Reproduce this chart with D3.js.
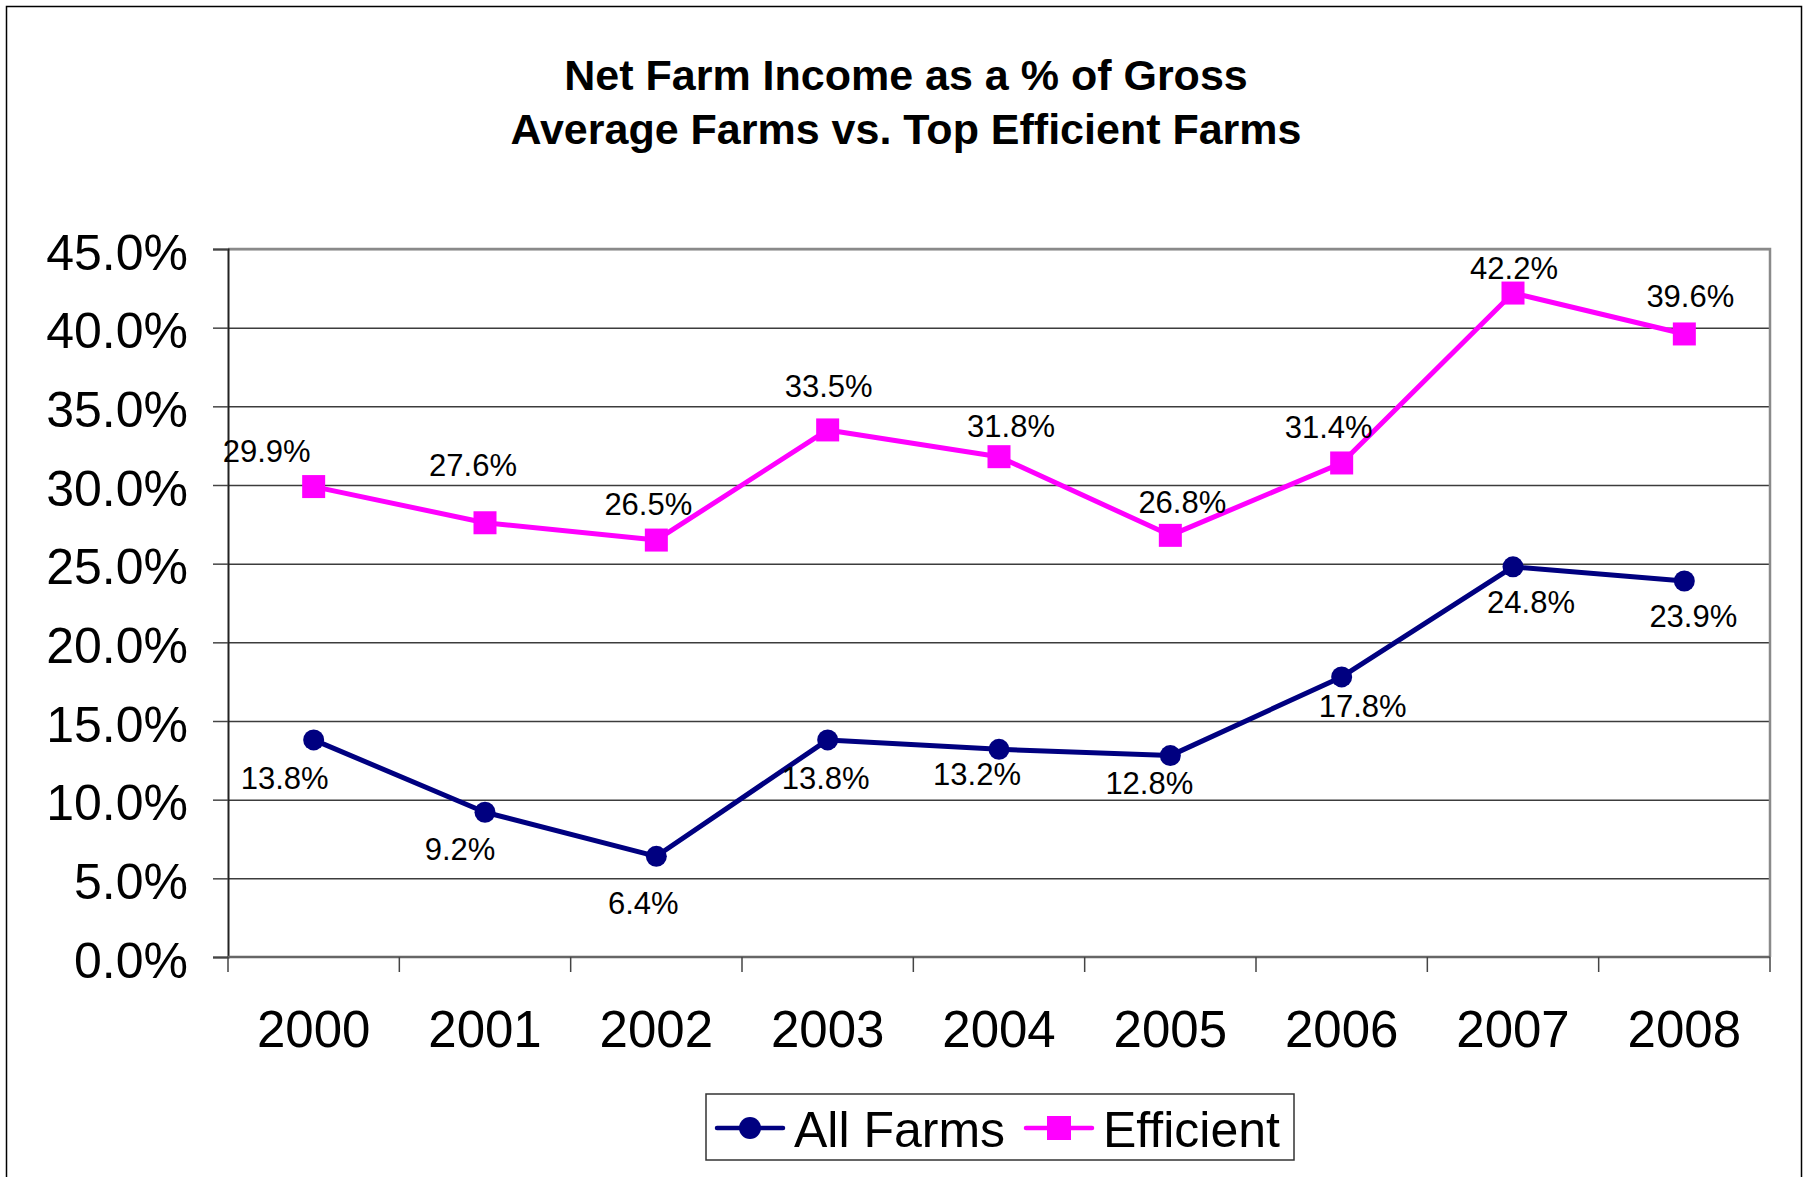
<!DOCTYPE html>
<html>
<head>
<meta charset="utf-8">
<script src="https://cdn.jsdelivr.net/npm/d3@7"></script>
<style>
  html, body { margin: 0; padding: 0; background: #fff; }
  svg { display: block; font-family: "Liberation Sans", Arial, sans-serif; }
</style>
</head>
<body>
<svg id="chart" width="1805" height="1177"></svg>
<script>
// Chart data
const years = ["2000", "2001", "2002", "2003", "2004", "2005", "2006", "2007", "2008"];
const allFarms = [13.8, 9.2, 6.4, 13.8, 13.2, 12.8, 17.8, 24.8, 23.9];
const efficient = [29.9, 27.6, 26.5, 33.5, 31.8, 26.8, 31.4, 42.2, 39.6];
const yTicks = [0, 5, 10, 15, 20, 25, 30, 35, 40, 45];
const titleLines = ["Net Farm Income as a % of Gross", "Average Farms vs. Top Efficient Farms"];

// Per-point label nudges (pixels, relative to the marker)
const effLabelNudge = [[-47, -35], [-12, -58], [-8, -36], [1, -44], [12, -31], [12, -33], [-13, -36], [1, -25], [6, -38]];
const allLabelNudge = [[-29, 38], [-25, 37], [-13, 47], [-2, 38], [-22, 25], [-21, 28], [21, 29], [18, 35], [9, 35]];

const NAVY = "#000080", MAGENTA = "#ff00ff";
const svg = d3.select("#chart");

// Outer frame
svg.append("rect").attr("x", 6.5).attr("y", 6.5).attr("width", 1795).attr("height", 1200)
  .attr("fill", "none").attr("stroke", "#000").attr("stroke-width", 1.5);

// Title
svg.append("g").selectAll("text").data(titleLines).join("text")
  .attr("x", 906).attr("y", (d, i) => 90 + i * 54)
  .attr("text-anchor", "middle").attr("font-weight", "bold").attr("font-size", 43)
  .text(d => d);

const plot = { left: 228, right: 1770, top: 249, bottom: 957 };
const x = d3.scaleBand().domain(years).range([plot.left, plot.right]).padding(0);
const y = d3.scaleLinear().domain([0, 45]).range([plot.bottom, plot.top]);
const cx = d => x(d) + x.bandwidth() / 2;

// Horizontal gridlines
svg.append("g").attr("transform", `translate(${plot.left},0)`)
  .call(d3.axisLeft(y).tickValues(yTicks.slice(1)).tickSize(-(plot.right - plot.left)).tickFormat(""))
  .call(g => g.select(".domain").remove())
  .call(g => g.selectAll("line").attr("stroke", "#3c3c3c").attr("stroke-width", 1.5));

// Plot border (top & right)
svg.append("path")
  .attr("d", `M${plot.left},${plot.top}H${plot.right}V${plot.bottom}`)
  .attr("fill", "none").attr("stroke", "#8a8a8a").attr("stroke-width", 2.5);

// Y axis
svg.append("g").attr("transform", `translate(${plot.left},0)`)
  .call(d3.axisLeft(y).tickValues(yTicks).tickSize(15).tickPadding(25).tickFormat(d => d.toFixed(1) + "%"))
  .call(g => g.select(".domain").attr("stroke", "#222").attr("stroke-width", 2))
  .call(g => g.selectAll(".tick line").attr("stroke", "#444").attr("stroke-width", 1.5))
  .call(g => g.selectAll("text").attr("font-size", 50).attr("dy", "0.4em")
    .attr("font-family", "Liberation Sans, Arial, sans-serif").attr("fill", "#000"));

// X axis: labels at category centres, ticks at category boundaries
const xAxis = svg.append("g").attr("transform", `translate(0,${plot.bottom})`);
xAxis.append("line").attr("x1", plot.left).attr("x2", plot.right)
  .attr("stroke", "#666").attr("stroke-width", 2.5);
const bounds = d3.range(years.length + 1).map(i => plot.left + i * x.step());
xAxis.selectAll(".btick").data(bounds).join("line").attr("class", "btick")
  .attr("x1", d => d).attr("x2", d => d).attr("y1", 0).attr("y2", 15)
  .attr("stroke", "#444").attr("stroke-width", 1.5);
xAxis.selectAll(".xlab").data(years).join("text").attr("class", "xlab")
  .attr("x", d => cx(d)).attr("y", 90).attr("text-anchor", "middle")
  .attr("font-size", 51).text(d => d);

// Series lines
const line = vals => d3.line().x((d, i) => cx(years[i])).y(d => y(d))(vals);
svg.append("path").attr("d", line(efficient)).attr("fill", "none")
  .attr("stroke", MAGENTA).attr("stroke-width", 5).attr("stroke-linejoin", "round");
svg.append("path").attr("d", line(allFarms)).attr("fill", "none")
  .attr("stroke", NAVY).attr("stroke-width", 5).attr("stroke-linejoin", "round");

// Markers
svg.append("g").selectAll("rect").data(efficient).join("rect")
  .attr("x", (d, i) => cx(years[i]) - 11.5).attr("y", d => y(d) - 11.5)
  .attr("width", 23).attr("height", 23).attr("fill", MAGENTA);
svg.append("g").selectAll("circle").data(allFarms).join("circle")
  .attr("cx", (d, i) => cx(years[i])).attr("cy", d => y(d)).attr("r", 10.5).attr("fill", NAVY);

// Data labels
const fmt = d => d.toFixed(1) + "%";
svg.append("g").selectAll("text").data(efficient).join("text")
  .attr("x", (d, i) => cx(years[i]) + effLabelNudge[i][0])
  .attr("y", (d, i) => y(d) + effLabelNudge[i][1])
  .attr("dy", "0.35em").attr("text-anchor", "middle").attr("font-size", 31).text(fmt);
svg.append("g").selectAll("text").data(allFarms).join("text")
  .attr("x", (d, i) => cx(years[i]) + allLabelNudge[i][0])
  .attr("y", (d, i) => y(d) + allLabelNudge[i][1])
  .attr("dy", "0.35em").attr("text-anchor", "middle").attr("font-size", 31).text(fmt);

// Legend
const legend = svg.append("g");
legend.append("rect").attr("x", 706).attr("y", 1094).attr("width", 588).attr("height", 66)
  .attr("fill", "#fff").attr("stroke", "#333").attr("stroke-width", 1.5);
const legendItems = [
  { name: "All Farms", color: NAVY, shape: "circle", x: 717 },
  { name: "Efficient", color: MAGENTA, shape: "square", x: 1026 }
];
legendItems.forEach(it => {
  const g = legend.append("g").attr("transform", `translate(${it.x},1128)`);
  g.append("line").attr("x1", 0).attr("x2", 66).attr("stroke", it.color)
    .attr("stroke-width", 4.5).attr("stroke-linecap", "round");
  if (it.shape === "circle") g.append("circle").attr("cx", 33).attr("r", 11).attr("fill", it.color);
  else g.append("rect").attr("x", 21).attr("y", -12).attr("width", 24).attr("height", 24).attr("fill", it.color);
  g.append("text").attr("x", 77).attr("y", 19).attr("font-size", 50).text(it.name);
});
</script>
</body>
</html>
